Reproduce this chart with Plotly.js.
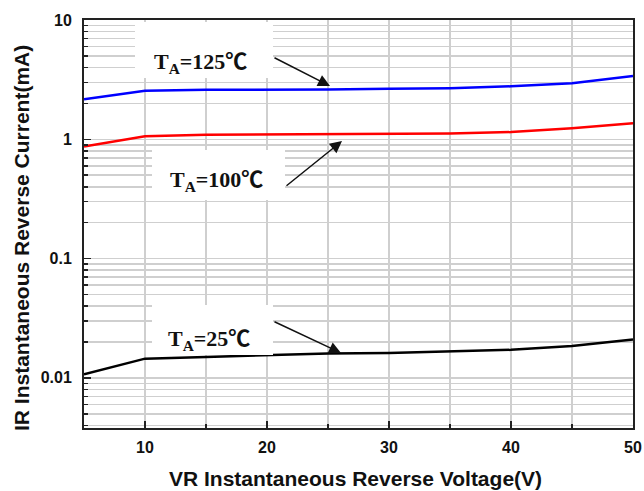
<!DOCTYPE html>
<html>
<head>
<meta charset="utf-8">
<script src="https://cdn.plot.ly/plotly-3.0.1.min.js"></script>
<style>html,body{margin:0;padding:0;background:#fff;}#chart{width:644px;height:491px;}</style>
</head>
<body>
<div id="chart"></div>
<script>
// Data
const voltage = [5, 10, 15, 20, 25, 30, 35, 40, 45, 50];
const current125 = [2.17, 2.55, 2.6, 2.6, 2.62, 2.65, 2.68, 2.78, 2.95, 3.4];
const current100 = [0.87, 1.06, 1.09, 1.1, 1.11, 1.11, 1.12, 1.15, 1.24, 1.36];
const current25 = [0.0107, 0.0145, 0.015, 0.0155, 0.016, 0.0162, 0.0166, 0.0172, 0.0185, 0.021];
const seriesTemps = ['125', '100', '25'];
const xTitle = 'VR Instantaneous Reverse Voltage(V)';
const yTitle = 'IR Instantaneous Reverse Current(mA)';

const W = 644, H = 491;
const L = 84, R = 11, T = 20, B = 63;
const pw = W - L - R, ph = H - T - B;
const px = v => (v - L) / pw;
const py = v => (H - B - v) / ph;

const seriesNames = seriesTemps.map(t => 'T<sub>A</sub>=' + t + '<span style="font-family:\'Noto Sans CJK SC\';font-weight:bold">℃</span>');

const traces = [
  {x: voltage, y: current125, mode: 'lines', line: {color: '#0000ff', width: 2.5}, name: 'TA=125℃'},
  {x: voltage, y: current100, mode: 'lines', line: {color: '#ff0000', width: 2.5}, name: 'TA=100℃'},
  {x: voltage, y: current25, mode: 'lines', line: {color: '#000000', width: 2.5}, name: 'TA=25℃'}
];

const labelFont = {family: '"Liberation Serif", "Times New Roman", serif', size: 22, color: '#111'};
const boxes = [[135, 273, 22, 78], [152, 285, 150, 200], [152, 273, 305, 355]];
const textPos = [[200, 60], [216, 178], [209, 337]];
const arrows = [[330, 86, 273, 57], [342, 141, 285, 187], [341, 353, 273, 321]];

const shapes = boxes.map(b => ({
  type: 'rect', xref: 'paper', yref: 'paper', layer: 'above',
  x0: px(b[0]), x1: px(b[1]), y0: py(b[3]), y1: py(b[2]),
  fillcolor: '#ffffff', line: {width: 0}
}));

const annotations = [];
seriesNames.forEach((n, i) => {
  annotations.push({
    xref: 'paper', yref: 'paper', x: px(textPos[i][0]), y: py(textPos[i][1]),
    xanchor: 'center', yanchor: 'middle', text: '<b>' + n + '</b>', showarrow: false, font: labelFont
  });
  const a = arrows[i];
  annotations.push({
    xref: 'paper', yref: 'paper', x: px(a[0]), y: py(a[1]), text: '',
    showarrow: true, ax: a[2] - a[0], ay: a[3] - a[1],
    arrowhead: 2, arrowsize: 1.6, arrowwidth: 1.5, arrowcolor: '#111', standoff: 0
  });
});
annotations.push({
  xref: 'paper', yref: 'paper', x: px(355), y: py(478), xanchor: 'center', yanchor: 'middle',
  text: '<b>' + xTitle + '</b>', showarrow: false,
  font: {family: '"Liberation Sans", Arial, sans-serif', size: 21, color: '#111'}
});
annotations.push({
  xref: 'paper', yref: 'paper', x: px(21), y: py(238), xanchor: 'center', yanchor: 'middle',
  text: '<b>' + yTitle + '</b>', showarrow: false, textangle: -90,
  font: {family: '"Liberation Sans", Arial, sans-serif', size: 21, color: '#111'}
});

const tickFont = {family: '"Liberation Sans", Arial, sans-serif', size: 16, color: '#111', weight: 'bold'};

const layout = {
  width: W, height: H,
  margin: {l: L, r: R, t: T, b: B, pad: 0},
  paper_bgcolor: '#ffffff', plot_bgcolor: '#ffffff',
  showlegend: false,
  xaxis: {
    range: [5, 50], tickmode: 'linear', tick0: 0, dtick: 10,
    ticks: 'inside', ticklen: 7, tickwidth: 1.5, tickcolor: '#222',
    showgrid: true, gridcolor: '#cfcfcf', gridwidth: 1.5,
    showline: true, linecolor: '#222', linewidth: 2, mirror: true,
    zeroline: false, tickfont: tickFont, ticklabelstandoff: 4,
    minor: {dtick: 5, tick0: 0, ticks: 'inside', ticklen: 4, tickcolor: '#222', showgrid: true, gridcolor: '#cfcfcf', gridwidth: 1.5}
  },
  yaxis: {
    type: 'log', range: [-2.42, 1], tickmode: 'linear', tick0: 0, dtick: 1,
    ticks: 'inside', ticklen: 7, tickwidth: 1.5, tickcolor: '#222',
    showgrid: true, gridcolor: '#cfcfcf', gridwidth: 1.5,
    showline: true, linecolor: '#222', linewidth: 2, mirror: true,
    zeroline: false, tickfont: tickFont, ticklabelstandoff: 7,
    minor: {dtick: 'D1', ticks: 'inside', ticklen: 4, tickcolor: '#222', showgrid: true, gridcolor: '#cfcfcf', gridwidth: 1.5}
  },
  shapes: shapes,
  annotations: annotations
};

Plotly.newPlot('chart', traces, layout, {staticPlot: true, displayModeBar: false});
</script>
</body>
</html>
